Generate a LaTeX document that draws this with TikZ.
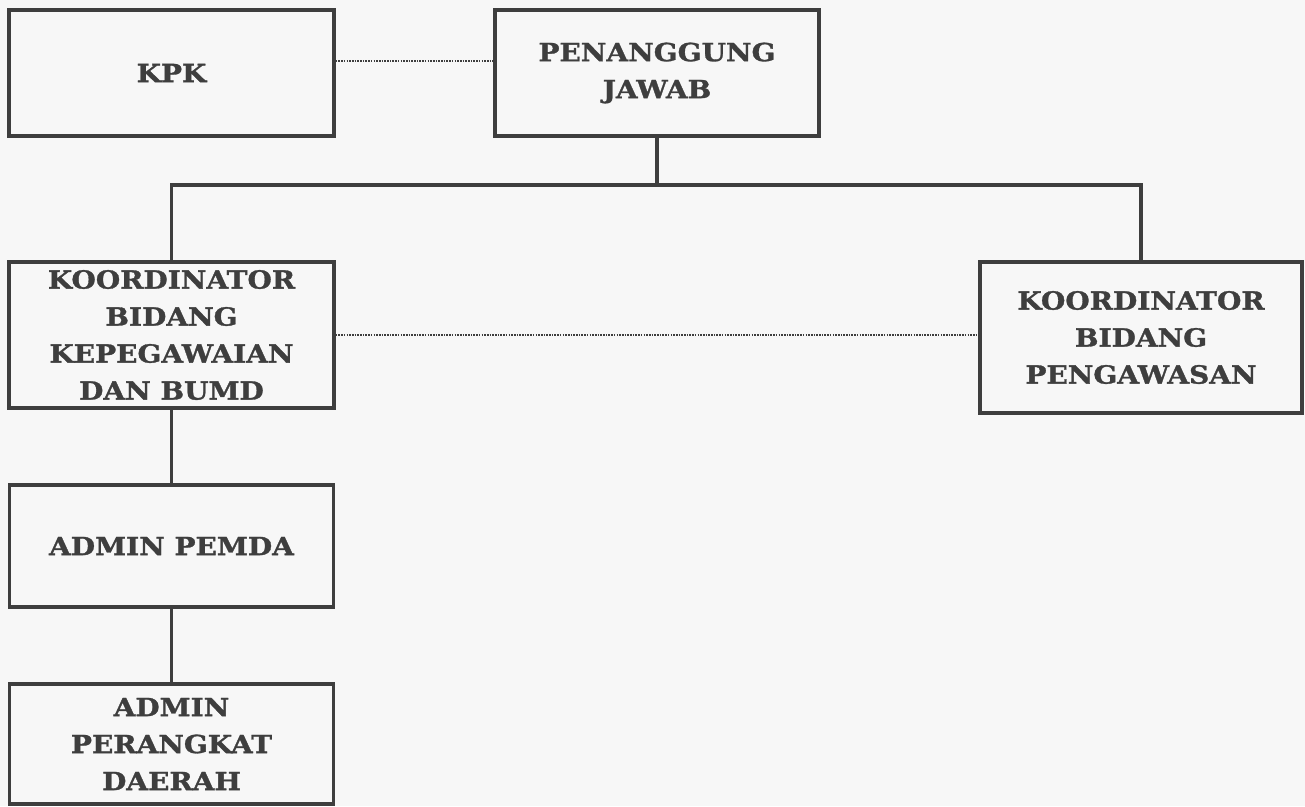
\documentclass[tikz,border=0pt]{standalone}
\usepackage{fontspec}
\setmainfont{DejaVu Serif}[FakeStretch=1.12, BoldFeatures={FakeBold=1.2}]
\definecolor{ink}{HTML}{3E3E3E}
\definecolor{bg}{HTML}{F7F7F7}
\begin{document}
\begin{tikzpicture}[x=1pt,y=-1pt,
  box/.style={draw=ink, line width=3.5pt, rectangle, align=center, inner sep=0pt,
    font=\fontsize{25}{37}\selectfont\bfseries, text=ink},
  conn/.style={draw=ink, line width=3.5pt},
  dots/.style={draw=ink, line width=2.2pt, dash pattern=on 1.6pt off 1.1pt}]
\fill[bg] (0,0) rectangle (1305,806);
\useasboundingbox (0,0) rectangle (1305,806);
\node[box, minimum width=325pt, minimum height=126pt] (kpk) at (171.5,73) {KPK};
\node[box, minimum width=324pt, minimum height=126pt] (pj) at (657,73) {PENANGGUNG\\JAWAB};
\node[box, minimum width=325pt, minimum height=146pt] (kb) at (171.5,335) {KOORDINATOR\\BIDANG\\KEPEGAWAIAN\\DAN BUMD};
\node[box, minimum width=322pt, minimum height=151pt] (kp) at (1141,337.5) {KOORDINATOR\\BIDANG\\PENGAWASAN};
\node[box, minimum width=324pt, minimum height=122pt] (ap) at (171.5,546) {ADMIN PEMDA};
\node[box, minimum width=324pt, minimum height=120pt] (apd) at (171.5,744) {ADMIN\\PERANGKAT\\DAERAH};
\coordinate (branch) at (657,185);
\draw[conn] (pj.south) -- (branch);
\draw[conn] (kb.north) |- (branch) -| (kp.north);
\draw[conn] (kb.south) -- (ap.north);
\draw[conn] (ap.south) -- (apd.north);
\draw[dots] ([yshift=12pt]kpk.east) -- ([yshift=12pt]pj.west);
\draw[dots] (kb.east) -- (kb.east -| kp.west);
\end{tikzpicture}
\end{document}
